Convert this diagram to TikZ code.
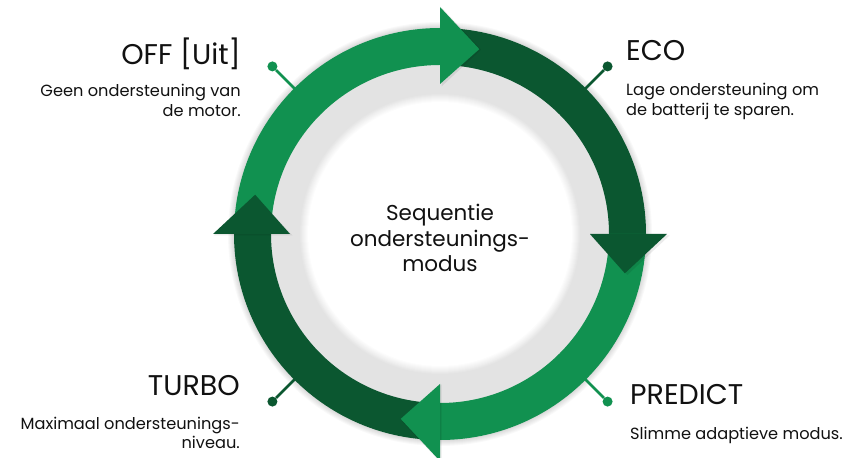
\documentclass[tikz,border=0pt]{standalone}
\usepackage{fontspec}
\setmainfont{Poppins}
\usetikzlibrary{calc}
\definecolor{lgreen}{HTML}{119150}
\definecolor{dgreen}{HTML}{0B5730}
\definecolor{ringgray}{HTML}{E3E3E3}
\definecolor{txt}{HTML}{111111}
\begin{document}
\begin{tikzpicture}[x=1pt,y=1pt,
  title/.style={inner sep=0pt, font=\fontsize{28.5}{32}\selectfont, text=txt},
  desc/.style={inner sep=0pt, font=\fontsize{16.2}{20}\selectfont, text=txt},
  centertext/.style={inner sep=0pt, align=center, font=\fontsize{21.5}{25.5}\selectfont, text=txt},
  dotnode/.style={circle, inner sep=0pt, minimum size=10pt},
  conn/.style={line width=2.5pt}]
\useasboundingbox (0,0) rectangle (868,458);
\fill[white] (0,0) rectangle (868,458);
\coordinate (c) at (440,224);
% soft outer shadow
\foreach \k in {1,...,6}{
  \fill[black, opacity=0.025] (c) circle[radius=206+\k];
}
% gray disk and white center with soft edge
\fill[ringgray] (c) circle[radius=169];
\foreach \i in {8,7,...,1}{
  \pgfmathsetmacro{\mix}{\i*11}
  \fill[ringgray!\mix!white] (c) circle[radius=132+\i];
}
\fill[white] (c) circle[radius=132];
% arc bands
\foreach \a/\col in {180/lgreen, 90/dgreen, 0/lgreen, -90/dgreen}{
  \pgfmathsetmacro{\b}{\a-90}
  \fill[\col] ($(c)+(\a:206)$) arc[start angle=\a, end angle=\b, radius=206]
     -- ($(c)+(\b:169)$) arc[start angle=\b, end angle=\a, radius=169] -- cycle;
}
% arrow heads
\foreach \a/\col in {180/lgreen, 90/dgreen, 0/lgreen, -90/dgreen}{
  \pgfmathsetmacro{\b}{\a-90}
  \pgfmathsetmacro{\t}{\a-102}
  \fill[black, opacity=0.08] ($(c)+(\b:228)+(1.5,-1.5)$) -- ($(c)+(\t:190)+(1.5,-1.5)$) -- ($(c)+(\b:149)+(1.5,-1.5)$) -- cycle;
  \fill[\col] ($(c)+(\b:227)$) -- ($(c)+(\t:189)$) -- ($(c)+(\b:150)$) -- cycle;
}
% centre text
\node[centertext, anchor=base] (ctext) at (440,186) {Sequentie\\ondersteunings-\\modus};
% connectors with dots
\node[dotnode, fill=lgreen] (doff) at ($(c)+(135:237)$) {};
\node[dotnode, fill=dgreen] (deco) at ($(c)+(45:237)$) {};
\node[dotnode, fill=lgreen] (dpred) at ($(c)+(-45:237)$) {};
\node[dotnode, fill=dgreen] (dturbo) at ($(c)+(-135:237)$) {};
\coordinate (eoff) at ($(c)+(135:205)$);
\coordinate (eeco) at ($(c)+(45:205)$);
\coordinate (epred) at ($(c)+(-45:205)$);
\coordinate (eturbo) at ($(c)+(-135:205)$);
\draw[conn, lgreen] (doff) -- (eoff);
\draw[conn, dgreen] (deco) -- (eeco);
\draw[conn, lgreen] (dpred) -- (epred);
\draw[conn, dgreen] (dturbo) -- (eturbo);
% labels
\node[title, anchor=base east] (toff) at (241,393) {OFF [Uit]};
\node[desc, anchor=base east, align=right] (xoff) at (241,341) {Geen ondersteuning van\\de motor.};
\node[title, anchor=base west] (teco) at (626,397) {ECO};
\node[desc, anchor=base west, align=left] (xeco) at (626,342) {Lage ondersteuning om\\de batterij te sparen.};
\node[title, anchor=base east] (tturbo) at (240,62) {TURBO};
\node[desc, anchor=base east, align=right] (xturbo) at (240,9) {Maximaal ondersteunings-\\niveau.};
\node[title, anchor=base west] (tpred) at (630,53) {PREDICT};
\node[desc, anchor=base west, align=left] (xpred) at (630,18) {Slimme adaptieve modus.};
\end{tikzpicture}
\end{document}
